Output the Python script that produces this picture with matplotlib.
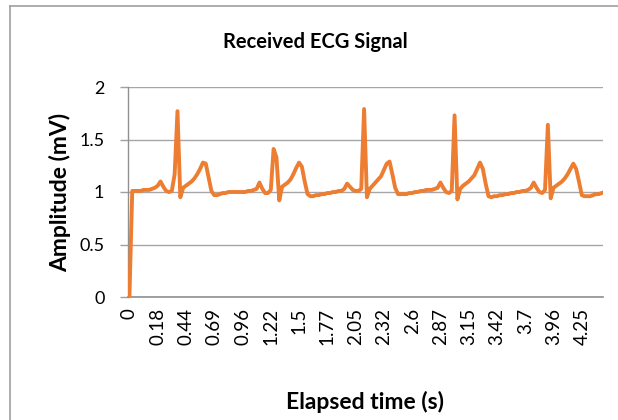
import matplotlib
matplotlib.use("Agg")
import matplotlib.pyplot as plt
from matplotlib.lines import Line2D

# ---- data ----
tick_labels = ["0", "0.18", "0.44", "0.69", "0.96", "1.22", "1.5", "1.77", "2.05",
               "2.32", "2.6", "2.87", "3.15", "3.42", "3.7", "3.96", "4.25"]
label_step = 10  # one label every 10 samples

amplitude = [
    0.00, 1.01, 1.01, 1.01, 1.01, 1.02, 1.02, 1.02, 1.03, 1.04,
    1.06, 1.10, 1.05, 1.01, 1.00, 1.01, 1.17, 1.77, 0.95, 1.04,
    1.06, 1.08, 1.10, 1.13, 1.17, 1.22, 1.28, 1.27, 1.14, 1.01,
    0.97, 0.97, 0.98, 0.99, 0.99, 1.00, 1.00, 1.00, 1.00, 1.00,
    1.00, 1.00, 1.01, 1.01, 1.02, 1.03, 1.09, 1.03, 0.99, 0.99,
    1.02, 1.41, 1.33, 0.92, 1.05, 1.07, 1.09, 1.12, 1.17, 1.23,
    1.28, 1.24, 1.10, 0.98, 0.96, 0.96, 0.97, 0.97, 0.98, 0.98,
    0.99, 0.99, 1.00, 1.00, 1.01, 1.01, 1.03, 1.08, 1.05, 1.02,
    1.01, 1.01, 1.03, 1.79, 0.95, 1.03, 1.06, 1.09, 1.12, 1.15,
    1.21, 1.27, 1.29, 1.17, 1.04, 0.98, 0.98, 0.98, 0.98, 0.99,
    0.99, 1.00, 1.00, 1.01, 1.01, 1.02, 1.02, 1.02, 1.03, 1.04,
    1.09, 1.04, 1.00, 0.99, 1.01, 1.73, 0.93, 1.03, 1.06, 1.08,
    1.10, 1.13, 1.16, 1.22, 1.28, 1.22, 1.08, 0.96, 0.95, 0.96,
    0.96, 0.97, 0.97, 0.98, 0.98, 0.99, 0.99, 1.00, 1.00, 1.01,
    1.01, 1.02, 1.04, 1.09, 1.04, 1.00, 0.99, 1.02, 1.64, 0.94,
    1.04, 1.06, 1.08, 1.10, 1.13, 1.17, 1.22, 1.27, 1.22, 1.10,
    0.97, 0.96, 0.96, 0.96, 0.97, 0.98, 0.98, 0.99,
]
y_ticks = [0, 0.5, 1, 1.5, 2]
y_tick_labels = ["0", "0.5", "1", "1.5", "2"]

plt.rcParams['font.family'] = ['Lato', 'DejaVu Sans']

W, H = 618, 420
fig = plt.figure(figsize=(W / 100, H / 100), dpi=100)
fig.patch.set_facecolor("white")

left, right, top, bottom = 128, 603, 87, 297
ax = fig.add_axes([left / W, 1 - bottom / H, (right - left) / W, (bottom - top) / H])

n = len(amplitude)
idx = list(range(n))
ax.plot(idx, amplitude, color="#ED7D31", lw=2.8, solid_joinstyle="round", zorder=3)

ax.set_xlim(-0.5, n - 0.5)
ax.set_ylim(0, 2)
ax.set_yticks(y_ticks)
ax.set_yticklabels(y_tick_labels, fontsize=13)
ax.set_xticks([i * label_step for i in range(len(tick_labels))])
ax.set_xticklabels(tick_labels, rotation=90, fontsize=13.5)
ax.tick_params(axis="x", length=0, pad=8)
ax.tick_params(axis="y", length=6, width=1, color="#A0A0A0", pad=11)

ax.grid(axis="y", color="#A6A6A6", lw=1)
ax.set_axisbelow(True)
for s in ["top", "right"]:
    ax.spines[s].set_visible(False)
ax.spines["left"].set_color("#909090")
ax.spines["bottom"].set_color("#909090")
ax.spines["left"].set_linewidth(1)
ax.spines["bottom"].set_linewidth(1.2)

fig.text(315 / W, 1 - 42 / H, "Received ECG Signal", ha="center", va="center",
         fontsize=14.5, fontweight="bold")
fig.text(365 / W, 1 - 402 / H, "Elapsed time (s)", ha="center", va="center",
         fontsize=16.5, fontweight="bold")
fig.text(60 / W, 1 - 192 / H, "Amplitude (mV)", ha="center", va="center",
         fontsize=16.5, fontweight="bold", rotation=90)

# chart-area border (left and top visible)
fig.add_artist(Line2D([10 / W, 10 / W], [0, 1 - 6 / H], transform=fig.transFigure,
                      color="#A0A0A0", lw=1.2))
fig.add_artist(Line2D([10 / W, 1], [1 - 6 / H, 1 - 6 / H], transform=fig.transFigure,
                      color="#A0A0A0", lw=1.2))

fig.savefig("out.png", dpi=100, facecolor="white")
